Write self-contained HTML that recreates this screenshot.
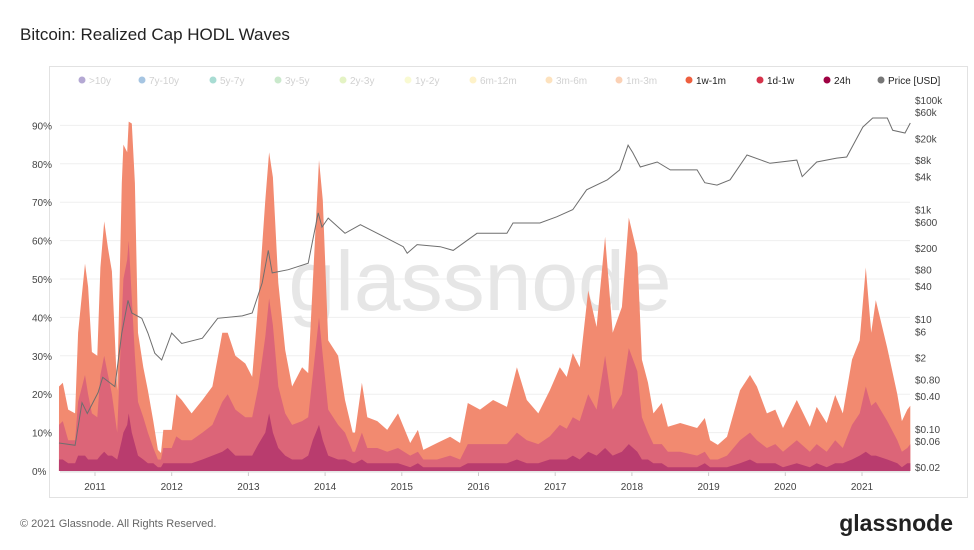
<!DOCTYPE html>
<html><head><meta charset="utf-8"><style>
body{margin:0;background:#fff;font-family:"Liberation Sans",sans-serif;}
#wrap{position:relative;width:974px;height:550px;overflow:hidden;}
</style></head><body>
<div id="wrap">
<svg id="svg" width="974" height="550" xmlns="http://www.w3.org/2000/svg">
<text x="20" y="40" font-size="17" fill="#222">Bitcoin: Realized Cap HODL Waves</text>
<rect x="49.5" y="66.5" width="918" height="431" fill="#fff" stroke="#e2e2e2"/>
<g id="grid"></g>
<text x="480" y="310" font-size="84" fill="#e6e6e6" text-anchor="middle">glassnode</text>
<g id="areas"></g>
<g id="price"></g>
<g id="axes"></g>
<g id="legend"></g>
<text x="20" y="527" font-size="11" fill="#666">© 2021 Glassnode. All Rights Reserved.</text>
<text x="953" y="531" font-size="23" fill="#222" text-anchor="end" font-weight="bold">glassnode</text>
</svg>
</div>
<script>
const dates=[2010.53,2010.58,2010.65,2010.74,2010.78,2010.87,2010.91,2010.96,2011.03,2011.07,2011.12,2011.17,2011.22,2011.29,2011.35,2011.37,2011.42,2011.44,2011.48,2011.52,2011.56,2011.63,2011.69,2011.76,2011.82,2011.86,2011.89,2012.00,2012.06,2012.13,2012.26,2012.40,2012.53,2012.66,2012.73,2012.83,2012.96,2013.05,2013.13,2013.22,2013.27,2013.32,2013.39,2013.48,2013.57,2013.70,2013.78,2013.84,2013.92,2013.97,2014.04,2014.17,2014.26,2014.36,2014.39,2014.48,2014.55,2014.68,2014.81,2014.95,2015.11,2015.21,2015.28,2015.46,2015.63,2015.76,2015.86,2016.02,2016.19,2016.37,2016.50,2016.63,2016.78,2016.93,2017.06,2017.15,2017.23,2017.32,2017.43,2017.54,2017.65,2017.75,2017.87,2017.96,2018.07,2018.13,2018.21,2018.28,2018.39,2018.47,2018.63,2018.85,2018.95,2019.02,2019.12,2019.24,2019.41,2019.54,2019.63,2019.76,2019.87,2019.97,2020.15,2020.32,2020.41,2020.54,2020.65,2020.75,2020.87,2020.97,2021.05,2021.12,2021.18,2021.33,2021.46,2021.52,2021.59,2021.63];
const h24=[3,3,2,2,4,4,3,3,3,4,5,4,4,3,8,10,12,15,10,7,4,3,2,2,1,1,2,2,2,2,2,3,4,5,6,4,4,4,7,10,15,10,6,4,3,3,4,8,12,8,4,3,3,2,2,3,2,2,2,2,1,2,1,1,1,1,2,2,2,2,3,2,2,3,3,3,4,3,5,4,6,4,5,7,5,3,3,2,2,1,1,1,2,1,1,1,2,3,2,2,2,1,2,1,2,1,2,2,3,4,5,4,4,3,2,1,2,2];
const d1w=[9,10,6,6,14,21,17,12,11,21,25,21,16,7,32,40,43,45,35,23,14,11,8,4,2,2,4,4,7,6,6,7,8,13,14,12,10,10,15,25,30,28,16,11,9,10,10,17,28,22,12,9,7,3,3,7,4,4,3,4,3,3,2,2,3,2,5,5,5,5,7,6,5,6,9,8,10,10,15,12,24,12,15,25,21,11,7,5,5,4,4,3,3,2,2,3,6,7,6,4,5,4,6,4,5,4,6,4,9,11,17,13,14,10,6,4,4,5];
const w1m=[10,10,8,7,18,29,28,16,16,28,35,33,32,11,35,35,28,31,45.5,45,18,13,11,7,2.5,1.7,4.7,4.7,11,10.5,7,8.5,10,18,16,14,14,10.5,22.5,35.5,38,38.5,27,16.5,10,14,11.5,24,41,40.5,18,18,8.5,5,5,13,8,7,5.7,9,3.3,5.7,2.5,4.3,4.9,4.3,10.7,9,11.5,9.7,17,10.5,8,12,15,13.5,16.7,14,27,21.5,31,20,22.7,34,30.7,15,13,8,10.7,6.5,7.5,7.2,8.8,5,3.8,4.9,13,15,14,9,9,6.2,10.5,6.5,9.7,7.5,11.8,9,17,19,31,19,26.5,19,12,8,10,10];
const priceDates=[2010.53,2010.74,2010.83,2010.90,2011.04,2011.10,2011.26,2011.35,2011.43,2011.48,2011.61,2011.69,2011.78,2011.87,2012.00,2012.13,2012.40,2012.60,2012.92,2013.05,2013.18,2013.26,2013.31,2013.52,2013.78,2013.84,2013.91,2013.96,2014.04,2014.26,2014.46,2014.68,2015.02,2015.07,2015.20,2015.50,2015.67,2015.98,2016.37,2016.45,2016.80,2017.02,2017.23,2017.41,2017.68,2017.84,2017.95,2018.01,2018.11,2018.33,2018.50,2018.85,2018.95,2019.11,2019.28,2019.50,2019.80,2020.15,2020.22,2020.41,2020.67,2020.80,2021.01,2021.14,2021.33,2021.40,2021.56,2021.63];
const priceUsd=[0.055,0.05,0.3,0.19,0.46,0.87,0.59,5.6,22,13,10.4,5.6,2.4,1.8,5.6,3.6,4.5,10.4,11.5,13,46,180,70,80,105,280,870,480,700,370,530,370,210,160,230,210,180,370,370,570,570,740,1000,2300,3500,5300,15000,11000,6000,7400,5300,5300,3100,2800,3500,9900,7000,8000,4000,7400,8700,9100,32000,47000,47000,28000,25000,38000];
const pctTicks=[0,10,20,30,40,50,60,70,80,90];
const yearTicks=[2011,2012,2013,2014,2015,2016,2017,2018,2019,2020,2021];
const priceTicks=[100000,60000,20000,8000,4000,1000,600,200,80,40,10,6,2,0.8,0.4,0.1,0.06,0.02];
const priceTickLabels=["$100k","$60k","$20k","$8k","$4k","$1k","$600","$200","$80","$40","$10","$6","$2","$0.80","$0.40","$0.10","$0.06","$0.02"];
const legendLabels=[">10y","7y-10y","5y-7y","3y-5y","2y-3y","1y-2y","6m-12m","3m-6m","1m-3m","1w-1m","1d-1w","24h","Price [USD]"];
const legendColors=["#5b3f9e","#3b80c0","#3fb3a0","#8bcf90","#c4e67e","#f3f59c","#fde38a","#fcc171","#f89a5c","#ee5f3f","#d6344b","#9e0142","#777"];
const legendActive=[0,0,0,0,0,0,0,0,0,1,1,1,1];

const NS="http://www.w3.org/2000/svg";
const X0=60,X1=910;
function xs(yr){return 95+(yr-2011)*76.7;}
function yp(p){return 471-p*3.84;}
function ypr(v){return 100+(5-Math.log10(v))*54.8;}
function mk(tag,attrs,parent){const e=document.createElementNS(NS,tag);for(const k in attrs)e.setAttribute(k,attrs[k]);parent.appendChild(e);return e;}
const grid=document.getElementById('grid'),areas=document.getElementById('areas'),priceG=document.getElementById('price'),axes=document.getElementById('axes'),legend=document.getElementById('legend');

pctTicks.forEach(p=>{
  const l=mk('line',{x1:X0,x2:X1,y1:yp(p),y2:yp(p),stroke:'#efefef'},grid);
  
  
  const t=mk('text',{x:32,y:yp(p)+4,'font-size':10,fill:'#444'},axes);
  t.textContent=p+'%';
  
  
});
yearTicks.forEach(y=>{
  const t=mk('text',{x:xs(y),y:490,'font-size':10,fill:'#444','text-anchor':'middle'},axes);
  t.textContent=y;
  
  
  const l=mk('line',{x1:xs(y),x2:xs(y),y1:472,y2:476,stroke:'#ccc'},axes);
  
  
});
const ax=mk('line',{x1:X0,x2:X1,y1:472,y2:472,stroke:'#ddd'},axes);


priceTicks.forEach((v,i)=>{
  const t=mk('text',{x:915,y:ypr(v)+4,'font-size':10,fill:'#444'},axes);
  t.textContent=priceTickLabels[i];
  
  
});

function stackPath(fn){
  let d='M'+xs(dates[0])+','+yp(0);
  dates.forEach((yr,i)=>{d+=' L'+xs(yr).toFixed(1)+','+yp(fn(i)).toFixed(1);});
  d+=' L'+xs(dates[dates.length-1])+','+yp(0)+' Z';
  return d;
}
const a1=mk('path',{d:stackPath(i=>h24[i]+d1w[i]+w1m[i]),fill:'#f28a70'},areas);


const a2=mk('path',{d:stackPath(i=>h24[i]+d1w[i]),fill:'#dc6578'},areas);


const a3=mk('path',{d:stackPath(i=>h24[i]),fill:'#b93c6e'},areas);



let pd='';
priceDates.forEach((yr,i)=>{pd+=(i?' L':'M')+xs(yr).toFixed(1)+','+ypr(priceUsd[i]).toFixed(1);});
const pl=mk('path',{d:pd,fill:'none',stroke:'#6e6e6e','stroke-width':1},priceG);



const lx=[82,142,213,278,343,408,473,549,619,689,760,827,881];
legendLabels.forEach((lab,i)=>{
  const g=mk('g',{opacity:legendActive[i]?1:0.45},legend);
  
  
  mk('circle',{cx:lx[i],cy:80,r:3.5,fill:legendColors[i]},g);
  const t=mk('text',{x:lx[i]+7,y:84,'font-size':10,fill:legendActive[i]?'#222':'#999'},g);
  t.textContent=lab;
});
</script>
</body></html>
